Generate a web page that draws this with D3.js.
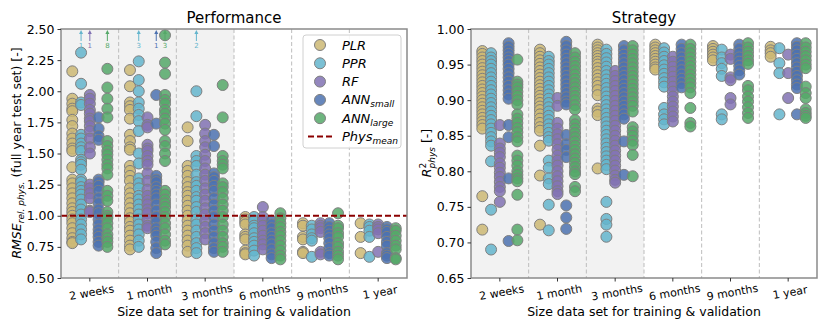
<!DOCTYPE html>
<html>
<head>
<meta charset="utf-8">
<script src="https://cdn.jsdelivr.net/npm/d3@7"></script>
<style>
body { margin: 0; background: #fff; }
text { font-family: "DejaVu Sans", sans-serif; }
</style>
</head>
<body>
<script>
const categories = ["2 weeks", "1 month", "3 months", "6 months", "9 months", "1 year"];
const series = ["PLR", "PPR", "RF", "ANN_small", "ANN_large"];
const colors = ["#ccb974", "#64b5cd", "#8172b3", "#4c72b0", "#55a868"];

// RMSE relative to physical model, one list per category
const rmsePLR = [
  [2.16, 1.94, 1.90, 1.86, 1.84, 1.77, 1.72, 1.66, 1.62, 1.58, 1.54, 1.52, 1.39, 1.29, 1.26, 1.22, 1.18, 1.14, 1.10, 1.06, 1.03, 1.00, 0.97, 0.94, 0.90, 0.86, 0.82, 0.79, 0.78],
  [2.17, 2.04, 1.91, 1.88, 1.85, 1.78, 1.65, 1.60, 1.55, 1.53, 1.40, 1.36, 1.32, 1.28, 1.22, 1.18, 1.14, 1.10, 1.06, 1.02, 0.98, 0.95, 0.91, 0.88, 0.84, 0.80, 0.76, 0.73],
  [1.71, 1.60, 1.40, 1.36, 1.32, 1.27, 1.23, 1.19, 1.16, 1.12, 1.08, 1.04, 1.00, 0.96, 0.92, 0.88, 0.84, 0.80, 0.76, 0.71],
  [0.99, 0.97, 0.95, 0.93, 0.85, 0.83, 0.81, 0.72, 0.70, 0.69],
  [0.94, 0.92, 0.83, 0.81, 0.71, 0.70],
  [0.94, 0.83, 0.70]
];
const rmsePPR = [
  [2.31, 2.06, 1.91, 1.89, 1.65, 1.62, 1.58, 1.55, 1.52, 1.45, 1.43, 1.41, 1.37, 1.29, 1.27, 1.23, 1.20, 1.17, 1.13, 1.09, 1.05, 1.01, 0.97, 0.93, 0.89, 0.85, 0.81],
  [2.24, 2.09, 2.00, 1.91, 1.86, 1.81, 1.76, 1.68, 1.50, 1.42, 1.30, 1.26, 1.22, 1.16, 1.13, 1.09, 1.05, 1.01, 0.97, 0.93, 0.89, 0.85, 0.80, 0.75],
  [2.00, 1.80, 1.48, 1.44, 1.40, 1.33, 1.27, 1.24, 1.20, 1.15, 1.12, 1.07, 1.03, 0.97, 0.93, 0.88, 0.83, 0.78, 0.74, 0.70],
  [0.99, 0.96, 0.92, 0.90, 0.86, 0.82, 0.79, 0.76, 0.72, 0.68],
  [0.92, 0.89, 0.85, 0.82, 0.80, 0.67],
  [0.93, 0.91, 0.88, 0.83, 0.67]
];
const rmseRF = [
  [1.97, 1.94, 1.90, 1.85, 1.82, 1.78, 1.76, 1.72, 1.68, 1.62, 1.55, 1.50, 1.25, 1.22, 1.18, 1.14, 1.04, 1.03],
  [1.79, 1.73, 1.71, 1.57, 1.54, 1.52, 1.48, 1.44, 1.41, 1.34, 1.28, 1.21, 1.16, 1.12, 1.09, 1.05, 1.02, 0.97, 0.92, 0.90],
  [1.73, 1.66, 1.60, 1.55, 1.49, 1.44, 1.38, 1.33, 1.28, 1.22, 1.17, 1.12, 1.06, 1.01, 0.96, 0.91, 0.86, 0.81],
  [1.07, 0.99, 0.96, 0.92, 0.88, 0.84, 0.80, 0.77, 0.73],
  [0.94, 0.92, 0.90, 0.87, 0.71, 0.69],
  [0.93, 0.91, 0.89, 0.86, 0.71]
];
const rmseANNsmall = [
  [1.79, 1.70, 1.64, 1.61, 1.29, 1.27, 1.24, 1.20, 1.14, 1.10, 1.05, 1.02, 0.97, 0.93, 0.89, 0.86, 0.83, 0.79, 0.76],
  [1.97, 1.74, 1.32, 1.29, 1.27, 1.23, 1.20, 1.17, 1.14, 1.09, 1.04, 0.99, 0.95, 0.90, 0.87, 0.84, 0.79, 0.74, 0.70],
  [1.65, 1.56, 1.34, 1.31, 1.28, 1.24, 1.20, 1.14, 1.09, 1.04, 0.99, 0.93, 0.88, 0.83, 0.78, 0.74, 0.71],
  [0.96, 0.93, 0.90, 0.86, 0.83, 0.80, 0.77, 0.73, 0.69, 0.66],
  [0.94, 0.91, 0.88, 0.85, 0.82, 0.78, 0.74, 0.70, 0.68],
  [0.91, 0.89, 0.87, 0.83, 0.79, 0.76, 0.70, 0.68, 0.66]
];
const rmseANNlarge = [
  [2.18, 2.03, 1.94, 1.86, 1.79, 1.60, 1.56, 1.52, 1.49, 1.45, 1.41, 1.38, 1.33, 1.20, 1.16, 1.12, 1.03, 1.00, 0.98, 0.94, 0.90, 0.85, 0.82, 0.79, 0.75],
  [2.45, 2.23, 2.14, 1.97, 1.93, 1.90, 1.85, 1.82, 1.78, 1.74, 1.69, 1.60, 1.56, 1.50, 1.44, 1.20, 1.17, 1.13, 1.10, 1.07, 1.03, 0.99, 0.94, 0.90, 0.85, 0.80, 0.77],
  [2.05, 1.79, 1.48, 1.44, 1.41, 1.38, 1.26, 1.23, 1.19, 1.14, 1.09, 1.04, 0.99, 0.93, 0.88, 0.83, 0.78, 0.75, 0.71],
  [1.02, 0.98, 0.94, 0.91, 0.87, 0.84, 0.80, 0.76, 0.72, 0.68, 0.65],
  [1.02, 0.92, 0.90, 0.86, 0.83, 0.78, 0.75, 0.71, 0.68, 0.65],
  [0.90, 0.88, 0.84, 0.80, 0.76, 0.73, 0.66, 0.65]
];
// number of runs above 2.5 (per category, per series)
const rmseAbove = [
  [0, 1, 1, 0, 8],
  [0, 3, 0, 1, 3],
  [0, 2, 0, 0, 0],
  [0, 0, 0, 0, 0],
  [0, 0, 0, 0, 0],
  [0, 0, 0, 0, 0]
];

// R2 against physical model
const r2PLR = [
  [0.969, 0.965, 0.960, 0.955, 0.950, 0.945, 0.940, 0.935, 0.930, 0.925, 0.920, 0.915, 0.910, 0.905, 0.900, 0.895, 0.890, 0.885, 0.880, 0.875, 0.870, 0.865, 0.860, 0.765, 0.718],
  [0.971, 0.966, 0.961, 0.956, 0.951, 0.946, 0.941, 0.936, 0.931, 0.926, 0.921, 0.916, 0.911, 0.906, 0.901, 0.896, 0.891, 0.886, 0.880, 0.874, 0.868, 0.862, 0.857, 0.836, 0.794, 0.725],
  [0.978, 0.974, 0.970, 0.966, 0.962, 0.958, 0.954, 0.950, 0.945, 0.940, 0.935, 0.930, 0.925, 0.920, 0.914, 0.907, 0.888, 0.884, 0.879, 0.804],
  [0.978, 0.974, 0.970, 0.966, 0.962, 0.958, 0.954, 0.950, 0.946, 0.943],
  [0.976, 0.972, 0.968, 0.964, 0.960, 0.956],
  [0.975, 0.970, 0.966, 0.961]
];
const r2PPR = [
  [0.966, 0.960, 0.955, 0.950, 0.944, 0.938, 0.932, 0.926, 0.920, 0.914, 0.908, 0.902, 0.896, 0.890, 0.884, 0.878, 0.872, 0.866, 0.860, 0.854, 0.848, 0.842, 0.836, 0.814, 0.746, 0.690],
  [0.961, 0.955, 0.950, 0.944, 0.938, 0.932, 0.926, 0.920, 0.914, 0.908, 0.902, 0.896, 0.890, 0.884, 0.878, 0.872, 0.866, 0.860, 0.854, 0.848, 0.843, 0.815, 0.805, 0.790, 0.782, 0.753, 0.717],
  [0.971, 0.965, 0.959, 0.953, 0.947, 0.941, 0.935, 0.929, 0.923, 0.917, 0.911, 0.905, 0.899, 0.893, 0.887, 0.881, 0.875, 0.869, 0.863, 0.857, 0.851, 0.845, 0.839, 0.833, 0.827, 0.821, 0.815, 0.809, 0.803, 0.757, 0.733, 0.725, 0.708],
  [0.973, 0.967, 0.961, 0.955, 0.949, 0.943, 0.937, 0.931, 0.925, 0.919, 0.889, 0.880, 0.873, 0.866],
  [0.971, 0.960, 0.952, 0.944, 0.934, 0.880, 0.873],
  [0.973, 0.952, 0.938, 0.880]
];
const r2RF = [
  [0.865, 0.839, 0.832, 0.826, 0.820, 0.811, 0.805, 0.798, 0.792, 0.785, 0.778, 0.772, 0.757],
  [0.903, 0.892, 0.868, 0.860, 0.852, 0.845, 0.838, 0.830, 0.822, 0.815, 0.808, 0.800, 0.793, 0.786, 0.779, 0.772, 0.768],
  [0.941, 0.934, 0.927, 0.920, 0.913, 0.906, 0.899, 0.892, 0.885, 0.878, 0.871, 0.864, 0.857, 0.850, 0.843, 0.836, 0.829, 0.822, 0.815, 0.808, 0.801, 0.794, 0.788, 0.784],
  [0.961, 0.954, 0.947, 0.940, 0.933, 0.926, 0.919, 0.912, 0.905, 0.898, 0.891, 0.884, 0.877, 0.870],
  [0.964, 0.958, 0.932, 0.928, 0.903, 0.894],
  [0.964, 0.938, 0.903]
];
const r2ANNsmall = [
  [0.980, 0.975, 0.970, 0.965, 0.960, 0.955, 0.950, 0.944, 0.938, 0.932, 0.926, 0.920, 0.914, 0.908, 0.902, 0.865, 0.848, 0.790, 0.702],
  [0.982, 0.976, 0.970, 0.964, 0.958, 0.952, 0.946, 0.940, 0.934, 0.928, 0.922, 0.916, 0.910, 0.904, 0.898, 0.894, 0.851, 0.838, 0.830, 0.820, 0.752, 0.735, 0.719],
  [0.976, 0.970, 0.964, 0.958, 0.952, 0.946, 0.940, 0.934, 0.928, 0.922, 0.916, 0.910, 0.904, 0.898, 0.892, 0.886, 0.880, 0.874, 0.842, 0.795],
  [0.978, 0.972, 0.966, 0.960, 0.954, 0.948, 0.942, 0.936, 0.930, 0.924, 0.918],
  [0.978, 0.972, 0.966, 0.960, 0.954, 0.948, 0.942, 0.936],
  [0.980, 0.975, 0.970, 0.964, 0.958, 0.952, 0.946, 0.940, 0.934, 0.928, 0.922, 0.917, 0.880]
];
const r2ANNlarge = [
  [0.957, 0.926, 0.922, 0.918, 0.912, 0.906, 0.900, 0.894, 0.880, 0.874, 0.868, 0.861, 0.855, 0.848, 0.842, 0.822, 0.815, 0.808, 0.800, 0.795, 0.790, 0.786, 0.767, 0.718, 0.703],
  [0.966, 0.960, 0.954, 0.948, 0.942, 0.936, 0.930, 0.924, 0.918, 0.912, 0.906, 0.900, 0.893, 0.887, 0.872, 0.866, 0.860, 0.854, 0.848, 0.842, 0.836, 0.830, 0.824, 0.818, 0.812, 0.806, 0.800, 0.796, 0.778, 0.772],
  [0.976, 0.970, 0.964, 0.958, 0.952, 0.946, 0.940, 0.934, 0.928, 0.922, 0.916, 0.910, 0.904, 0.898, 0.892, 0.884, 0.862, 0.856, 0.850, 0.843, 0.837, 0.823, 0.793],
  [0.978, 0.972, 0.966, 0.960, 0.954, 0.948, 0.942, 0.936, 0.930, 0.924, 0.918, 0.910, 0.889, 0.868, 0.863],
  [0.980, 0.974, 0.968, 0.962, 0.956, 0.951, 0.920, 0.914, 0.905, 0.898, 0.890, 0.882, 0.875],
  [0.980, 0.974, 0.968, 0.962, 0.956, 0.950, 0.945, 0.919, 0.910, 0.903, 0.887, 0.882, 0.878, 0.875]
];

const rmseTicks = [0.5, 0.75, 1.0, 1.25, 1.5, 1.75, 2.0, 2.25, 2.5];
const r2Ticks = [0.65, 0.70, 0.75, 0.80, 0.85, 0.90, 0.95, 1.00];

const width = 830, height = 332;
const svg = d3.select("body").append("svg")
    .attr("width", width)
    .attr("height", height);

function drawPanel(opts) {
    let left = opts.left, right = opts.right, top = 29, bottom = 278;

    let x = d3.scaleBand().domain(categories).range([left, right]).padding(0);
    let bw = x.bandwidth();
    let xs = d3.scaleBand().domain(series).range([-0.38 * bw, 0.38 * bw]);
    let y = d3.scaleLinear().domain(opts.domain).range([bottom, top]);

    let g = svg.append("g");

    // shaded background for the first three sizes
    g.append("rect")
        .attr("x", x(categories[0]))
        .attr("y", top)
        .attr("width", x(categories[3]) - x(categories[0]))
        .attr("height", bottom - top)
        .attr("fill", "#f2f2f2");

    // separators between sizes
    g.selectAll(".sep")
        .data(categories.slice(1))
        .enter().append("line")
        .attr("x1", d => x(d)).attr("x2", d => x(d))
        .attr("y1", top).attr("y2", bottom)
        .attr("stroke", "#bdbdbd")
        .attr("stroke-width", 1)
        .attr("stroke-dasharray", "4,2.5");

    let clip = "clip" + opts.id;
    svg.append("clipPath").attr("id", clip)
        .append("rect").attr("x", left).attr("y", top - 0.5)
        .attr("width", right - left).attr("height", bottom - top + 1);

    let pts = g.append("g").attr("clip-path", `url(#${clip})`);
    opts.data.forEach((arr, si) => {
        arr.forEach((vals, ci) => {
            let cx = x(categories[ci]) + bw / 2 + xs(series[si]) + xs.bandwidth() / 2;
            pts.selectAll(null)
                .data(vals)
                .enter().append("circle")
                .attr("cx", cx)
                .attr("cy", d => y(d))
                .attr("r", 5.5)
                .attr("fill", colors[si])
                .attr("fill-opacity", 0.85)
                .attr("stroke", "#7f7f7f")
                .attr("stroke-width", 1);
        });
    });

    if (opts.refLine !== undefined) {
        g.append("line")
            .attr("x1", left).attr("x2", right)
            .attr("y1", y(opts.refLine)).attr("y2", y(opts.refLine))
            .attr("stroke", "#8b0000")
            .attr("stroke-width", 2)
            .attr("stroke-dasharray", "6,3");
    }

    // arrows for values outside the axis
    if (opts.above) {
        opts.above.forEach((row, ci) => {
            row.forEach((n, si) => {
                if (!n) return;
                let cx = x(categories[ci]) + bw / 2 + xs(series[si]) + xs.bandwidth() / 2;
                g.append("line")
                    .attr("x1", cx).attr("x2", cx)
                    .attr("y1", top + 12).attr("y2", top + 4)
                    .attr("stroke", colors[si]).attr("stroke-width", 1);
                g.append("path")
                    .attr("d", `M${cx - 2},${top + 5}L${cx},${top + 1}L${cx + 2},${top + 5}Z`)
                    .attr("fill", colors[si]);
                g.append("text")
                    .attr("x", cx).attr("y", top + 18.5)
                    .attr("text-anchor", "middle")
                    .attr("font-size", 7)
                    .attr("fill", colors[si])
                    .text(n);
            });
        });
    }

    // frame
    g.append("rect")
        .attr("x", left).attr("y", top)
        .attr("width", right - left).attr("height", bottom - top)
        .attr("fill", "none")
        .attr("stroke", "#8a8a8a")
        .attr("stroke-width", 1.5);

    let yAxis = g.append("g")
        .attr("transform", `translate(${left},0)`)
        .call(d3.axisLeft(y).tickValues(opts.ticks).tickFormat(d3.format(".2f")).tickSize(3.5).tickSizeOuter(0));
    yAxis.select(".domain").remove();
    yAxis.selectAll("text").attr("font-size", 12.5).attr("fill", "#000").attr("font-family", "DejaVu Sans");
    yAxis.selectAll("line").attr("stroke", "#333");

    let xAxis = g.append("g")
        .attr("transform", `translate(0,${bottom})`)
        .call(d3.axisBottom(x).tickSize(3.5).tickSizeOuter(0));
    xAxis.select(".domain").remove();
    xAxis.selectAll("line").attr("stroke", "#333");
    xAxis.selectAll("text")
        .attr("font-size", 11)
        .attr("fill", "#000")
        .attr("font-family", "DejaVu Sans")
        .attr("text-anchor", "middle")
        .attr("transform", "translate(0,4) rotate(-10)");

    g.append("text")
        .attr("x", (left + right) / 2).attr("y", top - 6)
        .attr("text-anchor", "middle")
        .attr("font-size", 15)
        .text(opts.title);

    g.append("text")
        .attr("x", (left + right) / 2).attr("y", 316)
        .attr("text-anchor", "middle")
        .attr("font-size", 12.5)
        .text("Size data set for training & validation");

    return { x, y, g };
}

const perf = drawPanel({
    id: "a", left: 61, right: 407, domain: [0.5, 2.5], ticks: rmseTicks,
    data: [rmsePLR, rmsePPR, rmseRF, rmseANNsmall, rmseANNlarge],
    above: rmseAbove, refLine: 1.0, title: "Performance"
});

const strat = drawPanel({
    id: "b", left: 471, right: 817, domain: [0.65, 1.0], ticks: r2Ticks,
    data: [r2PLR, r2PPR, r2RF, r2ANNsmall, r2ANNlarge],
    title: "Strategy"
});

// y labels
let yl1 = svg.append("text")
    .attr("transform", "translate(21,153) rotate(-90)")
    .attr("text-anchor", "middle")
    .attr("font-size", 12.5);
yl1.append("tspan").attr("font-style", "italic").text("RMSE");
yl1.append("tspan").attr("font-style", "italic").attr("font-size", 9).attr("dy", 3).text("rel. phys.");
yl1.append("tspan").attr("dy", -3).text(" (full year test set) [-]");

let yl2 = svg.append("text")
    .attr("transform", "translate(431,153) rotate(-90)")
    .attr("text-anchor", "middle")
    .attr("font-size", 12.5);
yl2.append("tspan").attr("font-style", "italic").text("R");
yl2.append("tspan").attr("font-size", 9).attr("dy", -5).text("2");
yl2.append("tspan").attr("font-style", "italic").attr("font-size", 9).attr("dx", -5.7).attr("dy", 9).text("phys");
yl2.append("tspan").attr("dy", -4).text(" [-]");

// legend
const legendNames = [
    ["PLR", ""], ["PPR", ""], ["RF", ""], ["ANN", "small"], ["ANN", "large"], ["Phys", "mean"]
];
let lg = svg.append("g");
lg.append("rect")
    .attr("x", 303).attr("y", 35).attr("width", 98).attr("height", 113)
    .attr("rx", 3)
    .attr("fill", "#fff").attr("fill-opacity", 0.85)
    .attr("stroke", "#d0d0d0");

legendNames.forEach((nm, i) => {
    let ly = 45 + i * 18.3;
    if (i < 5) {
        lg.append("circle")
            .attr("cx", 320).attr("cy", ly).attr("r", 5.5)
            .attr("fill", colors[i]).attr("fill-opacity", 0.85)
            .attr("stroke", "#7f7f7f");
    } else {
        lg.append("line")
            .attr("x1", 308).attr("x2", 332).attr("y1", ly).attr("y2", ly)
            .attr("stroke", "#8b0000").attr("stroke-width", 2)
            .attr("stroke-dasharray", "6,3");
    }
    let t = lg.append("text")
        .attr("x", 342).attr("y", ly + 4.5)
        .attr("font-size", 13)
        .attr("font-style", "italic");
    t.append("tspan").text(nm[0]);
    if (nm[1]) t.append("tspan").attr("font-size", 9).attr("dy", 3).text(nm[1]);
});
</script>
</body>
</html>
